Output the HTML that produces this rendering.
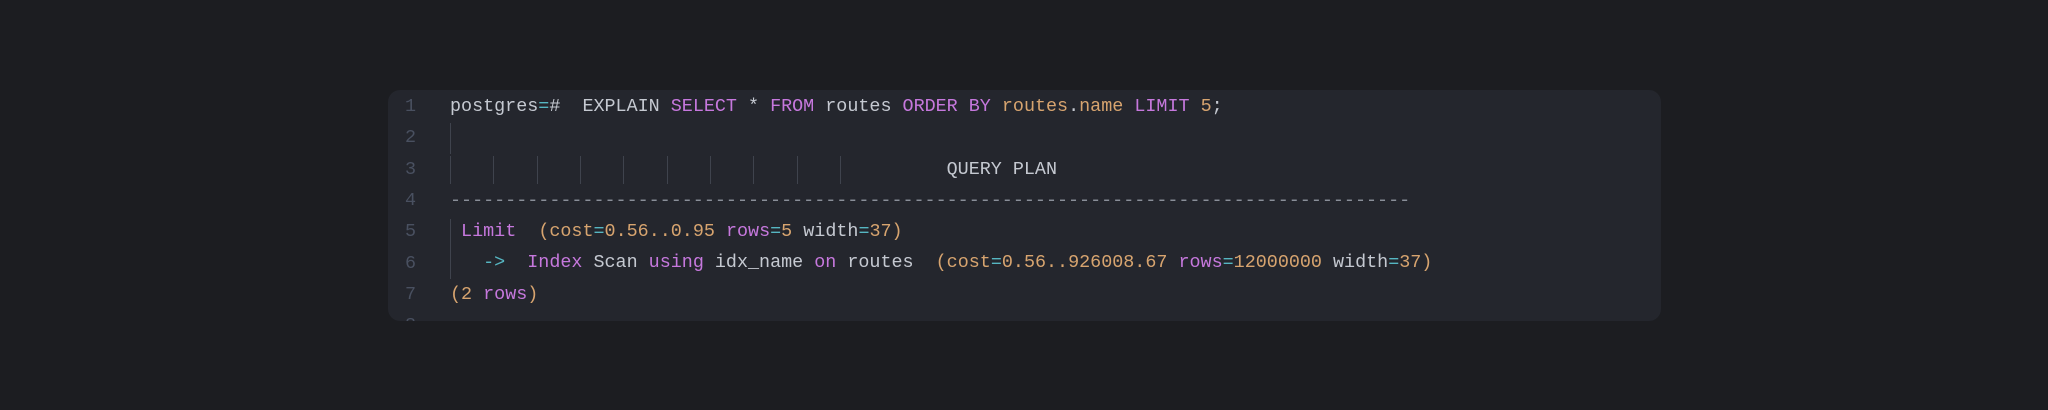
<!DOCTYPE html>
<html><head><meta charset="utf-8"><style>
html,body{margin:0;padding:0;width:2048px;height:410px;background:#1c1d21;overflow:hidden}
.box{position:absolute;left:388px;top:90px;width:1273px;height:231px;background:#24262d;border-radius:12px;overflow:hidden}
.ln{position:absolute;left:0;width:28px;text-align:right;color:#495060}
.code,.ln{font-family:"Liberation Mono",monospace;font-size:18.4px;line-height:31.3px;white-space:pre}
.code{position:absolute;left:62px;top:1px;color:#c5c9d1}
.nums{position:absolute;left:0;top:1px}
.k{color:#c678dd}.o{color:#d7a46f}.c{color:#56b6c2}
.bar{position:absolute;width:1px;background:#3f434d}
</style></head><body>
<div class="box">
<div class="nums"><div class="ln">1</div><div class="ln" style="top:31.3px">2</div><div class="ln" style="top:62.6px">3</div><div class="ln" style="top:93.9px">4</div><div class="ln" style="top:125.2px">5</div><div class="ln" style="top:156.5px">6</div><div class="ln" style="top:187.8px">7</div><div class="ln" style="top:219.1px">8</div></div>
<div class="bar" style="left:62px;top:33px;height:31px"></div>
<div class="bar" style="left:62px;top:66px;height:28px"></div>
<div class="bar" style="left:105px;top:66px;height:28px"></div>
<div class="bar" style="left:149px;top:66px;height:28px"></div>
<div class="bar" style="left:192px;top:66px;height:28px"></div>
<div class="bar" style="left:235px;top:66px;height:28px"></div>
<div class="bar" style="left:279px;top:66px;height:28px"></div>
<div class="bar" style="left:322px;top:66px;height:28px"></div>
<div class="bar" style="left:365px;top:66px;height:28px"></div>
<div class="bar" style="left:409px;top:66px;height:28px"></div>
<div class="bar" style="left:452px;top:66px;height:28px"></div>
<div class="bar" style="left:62px;top:129px;height:60px"></div>
<div class="code">postgres<span class="c">=</span>#  EXPLAIN <span class="k">SELECT</span> * <span class="k">FROM</span> routes <span class="k">ORDER BY</span> <span class="o">routes</span>.<span class="o">name</span> <span class="k">LIMIT</span> <span class="o">5</span>;

                                             QUERY PLAN
<span style="color:#8a8f99">---------------------------------------------------------------------------------------</span>
 <span class="k">Limit</span>  <span class="o">(cost</span><span class="c">=</span><span class="o">0.56..0.95</span> <span class="k">rows</span><span class="c">=</span><span class="o">5</span> width<span class="c">=</span><span class="o">37)</span>
   <span class="c">-&gt;</span>  <span class="k">Index</span> Scan <span class="k">using</span> idx_name <span class="k">on</span> routes  <span class="o">(cost</span><span class="c">=</span><span class="o">0.56..926008.67</span> <span class="k">rows</span><span class="c">=</span><span class="o">12000000</span> width<span class="c">=</span><span class="o">37)</span>
<span class="o">(2</span> <span class="k">rows</span><span class="o">)</span></div>
</div>
</body></html>
